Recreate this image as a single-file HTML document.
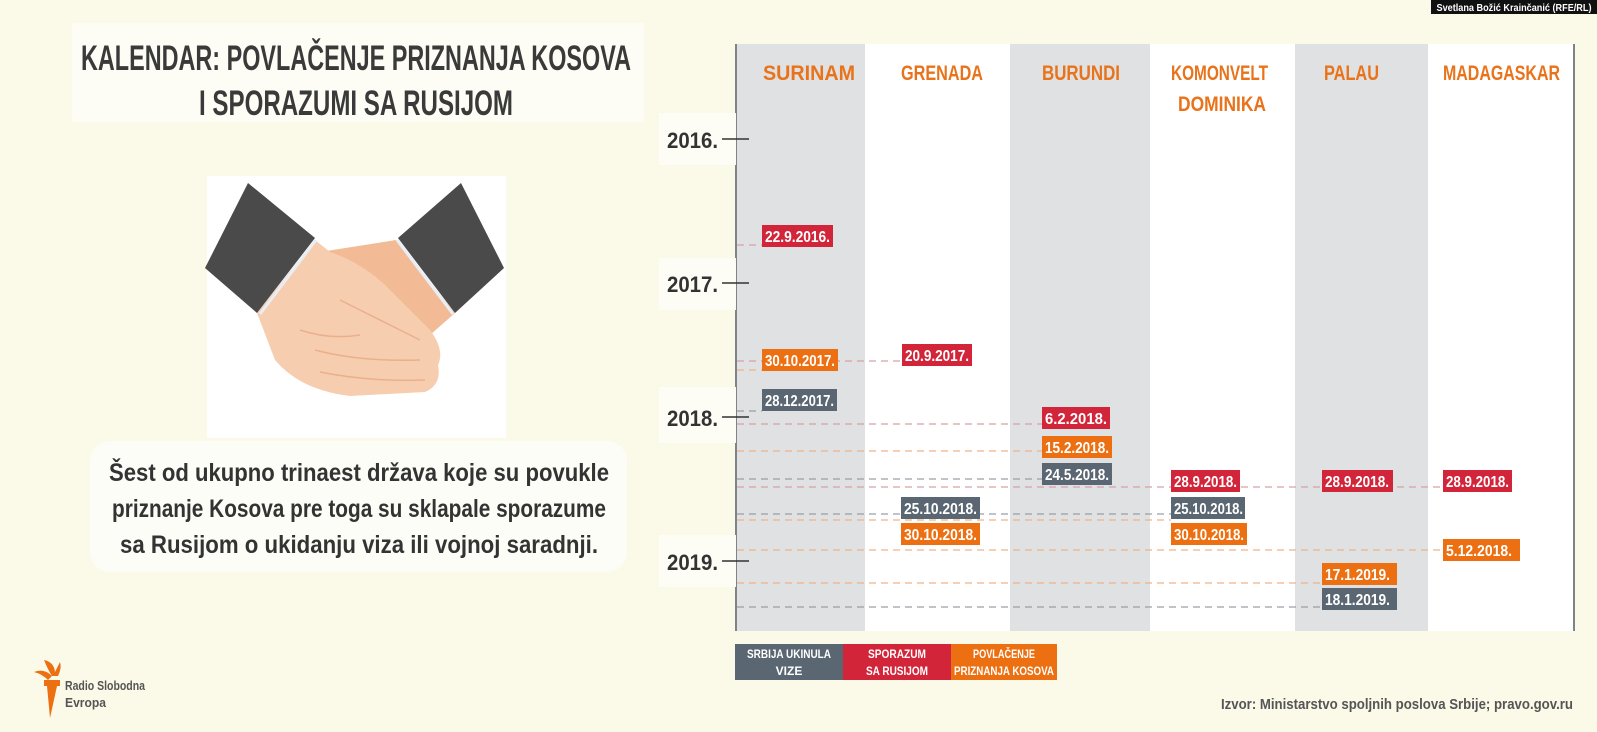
<!DOCTYPE html>
<html><head><meta charset="utf-8"><style>
html,body{margin:0;padding:0;background:#fbf9e7;}
svg{display:block;}
text{font-family:"Liberation Sans Narrow","Liberation Sans",sans-serif;font-weight:bold;}
</style></head><body>
<svg width="1597" height="732" viewBox="0 0 1597 732" xmlns="http://www.w3.org/2000/svg">
<rect width="1597" height="732" fill="#fbf9e7"/>
<rect x="1431" y="0" width="166" height="14" fill="#111"/>
<text x="1514" y="11" font-size="10" fill="#fff" text-anchor="middle" font-family="Liberation Sans" textLength="155" lengthAdjust="spacingAndGlyphs">Svetlana Božić Krainčanić (RFE/RL)</text>
<rect x="72" y="23" width="572" height="99" fill="#fdfdf5"/>
<text x="356" y="70" font-size="35" fill="#3a3a3a" text-anchor="middle" textLength="550" lengthAdjust="spacingAndGlyphs">KALENDAR: POVLAČENJE PRIZNANJA KOSOVA</text>
<text x="356" y="115" font-size="35" fill="#3a3a3a" text-anchor="middle" textLength="314" lengthAdjust="spacingAndGlyphs">I SPORAZUMI SA RUSIJOM</text>
<!-- handshake -->
<rect x="207" y="176" width="299" height="262" fill="#ffffff"/>
<path d="M320 252 L396 240 L455 313 L430 335 Q400 320 370 300 L330 278Z" fill="#f2bb95"/>
<path d="M257 313 L315 240 L330 252 Q360 262 385 285 L430 330 Q445 350 438 365 Q442 385 425 392 L350 396 Q300 390 275 360 Z" fill="#f7cdb0"/>
<path d="M300 330 Q330 340 360 335 M315 350 Q360 362 420 360 M320 372 Q370 382 425 380 M340 300 Q380 320 420 340" stroke="#eab08c" stroke-width="1.5" fill="none"/>
<path d="M248 183 L205 268 L257 313 L315 238Z" fill="#4a4a4a"/>
<path d="M461 183 L504 268 L455 313 L398 238Z" fill="#4a4a4a"/>
<path d="M316 240 L260 314" stroke="#e8eef3" stroke-width="3"/>
<path d="M397 240 L453 314" stroke="#e8eef3" stroke-width="3"/>
<!-- text box -->
<rect x="90" y="441" width="537" height="131" rx="20" fill="#fdfdf8"/>
<text x="359" y="481" font-size="25" fill="#333" text-anchor="middle" textLength="500" lengthAdjust="spacingAndGlyphs">Šest od ukupno trinaest država koje su povukle</text>
<text x="359" y="517" font-size="25" fill="#333" text-anchor="middle" textLength="494" lengthAdjust="spacingAndGlyphs">priznanje Kosova pre toga su sklapale sporazume</text>
<text x="359" y="553" font-size="25" fill="#333" text-anchor="middle" textLength="478" lengthAdjust="spacingAndGlyphs">sa Rusijom o ukidanju viza ili vojnoj saradnji.</text>
<!-- chart columns -->
<rect x="736" y="44" width="129" height="587" fill="#dfe1e2"/>
<rect x="865" y="44" width="145" height="587" fill="#ffffff"/>
<rect x="1010" y="44" width="140" height="587" fill="#dfe1e2"/>
<rect x="1150" y="44" width="145" height="587" fill="#ffffff"/>
<rect x="1295" y="44" width="133" height="587" fill="#dfe1e2"/>
<rect x="1428" y="44" width="146" height="587" fill="#ffffff"/>
<line x1="736" y1="44" x2="736" y2="631" stroke="#808385" stroke-width="2"/>
<line x1="1574" y1="44" x2="1574" y2="631" stroke="#808385" stroke-width="2"/>
<g font-size="21" fill="#e8731a">
<text x="763" y="80" textLength="92" lengthAdjust="spacingAndGlyphs">SURINAM</text>
<text x="901" y="80" textLength="82" lengthAdjust="spacingAndGlyphs">GRENADA</text>
<text x="1042" y="80" textLength="78" lengthAdjust="spacingAndGlyphs">BURUNDI</text>
<text x="1171" y="80" textLength="97" lengthAdjust="spacingAndGlyphs">KOMONVELT</text>
<text x="1178" y="111" textLength="88" lengthAdjust="spacingAndGlyphs">DOMINIKA</text>
<text x="1324" y="80" textLength="55" lengthAdjust="spacingAndGlyphs">PALAU</text>
<text x="1443" y="80" textLength="117" lengthAdjust="spacingAndGlyphs">MADAGASKAR</text>
</g>
<g font-size="22" fill="#333">
<rect x="659" y="113" width="77" height="52" fill="#fdfdf6"/>
<rect x="659" y="258" width="77" height="52" fill="#fdfdf6"/>
<rect x="659" y="387" width="77" height="56" fill="#fdfdf6"/>
<rect x="659" y="535" width="77" height="52" fill="#fdfdf6"/>
<text x="667" y="148" textLength="51" lengthAdjust="spacingAndGlyphs">2016.</text>
<text x="667" y="292" textLength="51" lengthAdjust="spacingAndGlyphs">2017.</text>
<text x="667" y="426" textLength="51" lengthAdjust="spacingAndGlyphs">2018.</text>
<text x="667" y="570" textLength="51" lengthAdjust="spacingAndGlyphs">2019.</text>
</g>
<g stroke="#333" stroke-width="1.5">
<line x1="722" y1="139" x2="749" y2="139"/>
<line x1="722" y1="283" x2="749" y2="283"/>
<line x1="722" y1="417" x2="749" y2="417"/>
<line x1="722" y1="561" x2="749" y2="561"/>
</g>
<g stroke-width="1.2" stroke-dasharray="7,5" fill="none">
<line x1="737" y1="245" x2="762" y2="245" stroke="#d7a1a7"/>
<line x1="737" y1="361" x2="902" y2="361" stroke="#d7a1a7"/>
<line x1="737" y1="370" x2="762" y2="370" stroke="#eeb48a"/>
<line x1="737" y1="411" x2="762" y2="411" stroke="#9aa0a6"/>
<line x1="737" y1="424" x2="1042" y2="424" stroke="#d7a1a7"/>
<line x1="737" y1="451" x2="1042" y2="451" stroke="#eeb48a"/>
<line x1="737" y1="479" x2="1042" y2="479" stroke="#9aa0a6"/>
<line x1="737" y1="487" x2="1443" y2="487" stroke="#d7a1a7"/>
<line x1="737" y1="514" x2="1171" y2="514" stroke="#9aa0a6"/>
<line x1="737" y1="520" x2="1171" y2="520" stroke="#eeb48a"/>
<line x1="737" y1="550" x2="1443" y2="550" stroke="#eeb48a"/>
<line x1="737" y1="583" x2="1322" y2="583" stroke="#eeb48a"/>
<line x1="737" y1="607" x2="1322" y2="607" stroke="#9aa0a6"/>
</g>
<g font-size="16" fill="#fff">
<rect x="762" y="225" width="71" height="22" fill="#d2253a"/><text x="765" y="242" textLength="65" lengthAdjust="spacingAndGlyphs">22.9.2016.</text>
<rect x="762" y="349" width="76" height="22" fill="#ec7012"/><text x="765" y="366" textLength="70" lengthAdjust="spacingAndGlyphs">30.10.2017.</text>
<rect x="902" y="344" width="70" height="22" fill="#d2253a"/><text x="905" y="361" textLength="64" lengthAdjust="spacingAndGlyphs">20.9.2017.</text>
<rect x="762" y="389" width="75" height="22" fill="#5a6671"/><text x="765" y="406" textLength="69" lengthAdjust="spacingAndGlyphs">28.12.2017.</text>
<rect x="1042" y="407" width="68" height="22" fill="#d2253a"/><text x="1045" y="424" textLength="62" lengthAdjust="spacingAndGlyphs">6.2.2018.</text>
<rect x="1042" y="436" width="70" height="22" fill="#ec7012"/><text x="1045" y="453" textLength="64" lengthAdjust="spacingAndGlyphs">15.2.2018.</text>
<rect x="1042" y="463" width="70" height="22" fill="#5a6671"/><text x="1045" y="480" textLength="64" lengthAdjust="spacingAndGlyphs">24.5.2018.</text>
<rect x="1171" y="470" width="69" height="22" fill="#d2253a"/><text x="1174" y="487" textLength="63" lengthAdjust="spacingAndGlyphs">28.9.2018.</text>
<rect x="1322" y="470" width="71" height="22" fill="#d2253a"/><text x="1325" y="487" textLength="64" lengthAdjust="spacingAndGlyphs">28.9.2018.</text>
<rect x="1443" y="470" width="69" height="22" fill="#d2253a"/><text x="1446" y="487" textLength="63" lengthAdjust="spacingAndGlyphs">28.9.2018.</text>
<rect x="901" y="497" width="79" height="22" fill="#5a6671"/><text x="904" y="514" textLength="73" lengthAdjust="spacingAndGlyphs">25.10.2018.</text>
<rect x="1171" y="497" width="74" height="22" fill="#5a6671"/><text x="1174" y="514" textLength="69" lengthAdjust="spacingAndGlyphs">25.10.2018.</text>
<rect x="901" y="523" width="79" height="22" fill="#ec7012"/><text x="904" y="540" textLength="73" lengthAdjust="spacingAndGlyphs">30.10.2018.</text>
<rect x="1171" y="523" width="76" height="22" fill="#ec7012"/><text x="1174" y="540" textLength="70" lengthAdjust="spacingAndGlyphs">30.10.2018.</text>
<rect x="1443" y="539" width="77" height="22" fill="#ec7012"/><text x="1446" y="556" textLength="66" lengthAdjust="spacingAndGlyphs">5.12.2018.</text>
<rect x="1322" y="563" width="75" height="22" fill="#ec7012"/><text x="1325" y="580" textLength="65" lengthAdjust="spacingAndGlyphs">17.1.2019.</text>
<rect x="1322" y="588" width="75" height="22" fill="#5a6671"/><text x="1325" y="605" textLength="65" lengthAdjust="spacingAndGlyphs">18.1.2019.</text>
</g>
<rect x="735" y="644" width="108" height="36" fill="#5a6671"/>
<rect x="843" y="644" width="108" height="36" fill="#d2253a"/>
<rect x="951" y="644" width="106" height="36" fill="#ec7012"/>
<g font-size="12" fill="#fff" text-anchor="middle">
<text x="789" y="658" textLength="84" lengthAdjust="spacingAndGlyphs">SRBIJA UKINULA</text>
<text x="789" y="675">VIZE</text>
<text x="897" y="658" textLength="58" lengthAdjust="spacingAndGlyphs">SPORAZUM</text>
<text x="897" y="675" textLength="62" lengthAdjust="spacingAndGlyphs">SA RUSIJOM</text>
<text x="1004" y="658" textLength="62" lengthAdjust="spacingAndGlyphs">POVLAČENJE</text>
<text x="1004" y="675" textLength="100" lengthAdjust="spacingAndGlyphs">PRIZNANJA KOSOVA</text>
</g>
<text x="1573" y="709" font-size="15" fill="#555" text-anchor="end" textLength="352" lengthAdjust="spacingAndGlyphs">Izvor: Ministarstvo spoljnih poslova Srbije; pravo.gov.ru</text>
<g fill="#ec7012">
<path d="M44 660 Q48 670 52 676 L58 676 Q62 668 60 662 Q56 670 55 672 Q54 662 44 660Z"/>
<path d="M34 672 Q42 674 48 680 L52 676 Q44 668 34 672Z"/>
<rect x="44" y="680" width="16" height="6"/>
<path d="M47 686 L57 686 L50 718 Z"/>
</g>
<text x="65" y="690" font-size="13" fill="#555" textLength="80" lengthAdjust="spacingAndGlyphs">Radio Slobodna</text>
<text x="65" y="707" font-size="13" fill="#555" textLength="41" lengthAdjust="spacingAndGlyphs">Evropa</text>
</svg>
</body></html>
